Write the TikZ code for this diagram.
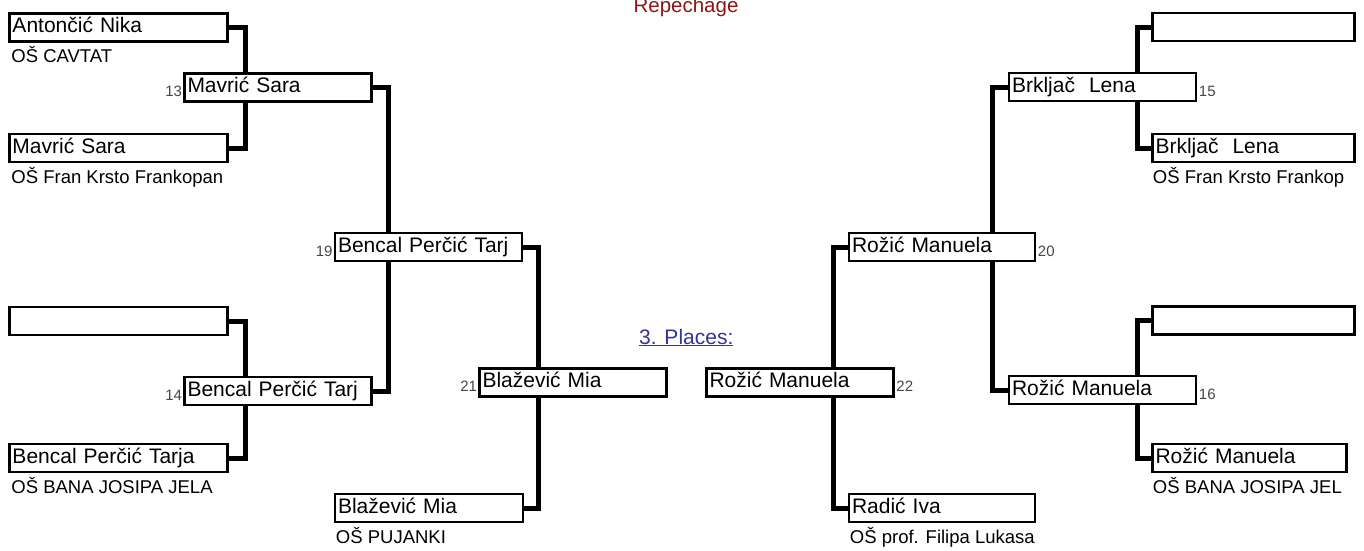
\documentclass[tikz,border=0pt]{standalone}
\usepackage{fontspec}
\setmainfont{Liberation Sans}
\usepackage{xcolor}
\definecolor{repred}{RGB}{140,22,22}
\definecolor{placeblue}{RGB}{51,51,153}
\definecolor{seedgray}{RGB}{70,70,70}

\begin{document}
\begin{tikzpicture}[x=1pt, y=-1pt,
  player/.style={draw, line width=2.5pt, fill=white, minimum height=28pt,
    inner xsep=3pt, inner ysep=0pt, text height=14pt, text depth=4pt,
    align=left, text width=#1, font=\fontsize{21}{25}\selectfont},
  school/.style={anchor=base west, inner sep=0pt, font=\fontsize{18.5}{22}\selectfont},
  seed/.style={inner sep=0pt, text=seedgray, font=\fontsize{15}{17}\selectfont},
  link/.style={line width=5pt}]
\useasboundingbox (0,0) rectangle (1364,550);

% Titles
\node[anchor=base, inner sep=0pt, text=repred, font=\fontsize{20.5}{24}\selectfont] (title) at (686,12) {Repechage};
\node[anchor=base west, inner sep=0pt, text=placeblue, font=\fontsize{21}{25}\selectfont] (places) at (639,344) {\underline{3. Places:}};

% Bracket columns
\coordinate (lc1) at (245,0);
\coordinate (lc2) at (388,0);
\coordinate (lc3) at (538,0);
\coordinate (rc1) at (1137,0);
\coordinate (rc2) at (992,0);
\coordinate (rc3) at (833,0);

% Left half: first round
\node[player=212] (L1) at (118.5,27.5) {Antončić Nika};
\node[player=212] (L2) at (118.5,148) {Mavrić Sara};
\node[player=212] (L3) at (118.5,321) {};
\node[player=212] (L4) at (118.5,458) {Bencal Perčić Tarja};
\node[school] (sL1) at ([xshift=3pt,yshift=-20pt]L1.south west) {OŠ CAVTAT};
\node[school] (sL2) at ([xshift=3pt,yshift=-20pt]L2.south west) {OŠ Fran Krsto Frankopan};
\node[school] (sL4) at ([xshift=3pt,yshift=-20pt]L4.south west) {OŠ BANA JOSIPA JELA};

% Left half: later rounds
\node[player=181] (M13) at (278,87.5) {Mavrić Sara};
\node[player=181] (M14) at (278,391) {Bencal Perčić Tarj};
\node[player=181] (M19) at (428.5,247) {Bencal Perčić Tarj};
\node[player=181] (M21) at (573,382.5) {Blažević Mia};
\node[player=182] (B) at (429,508) {Blažević Mia};
\node[school] (sB) at ([xshift=2pt,yshift=-20pt]B.south west) {OŠ PUJANKI};

\foreach \m/\n in {M13/13, M14/14, M19/19, M21/21}
  \node[seed, anchor=base east] (n\n) at ([xshift=-1pt,yshift=-9pt]\m.west) {\n};

% Right half: first round
\node[player=196] (R1) at (1253.5,27) {};
\node[player=196] (R2) at (1253.5,148) {Brkljač\ \ Lena};
\node[player=196] (R3) at (1253.5,320.5) {};
\node[player=188] (R4) at (1249.5,458) {Rožić Manuela};
\node[school] (sR2) at ([xshift=1.5pt,yshift=-20pt]R2.south west) {OŠ Fran Krsto Frankop};
\node[school] (sR4) at ([xshift=1.5pt,yshift=-20pt]R4.south west) {OŠ BANA JOSIPA JEL};

% Right half: later rounds
\node[player=181] (M15) at (1102.5,87) {Brkljač\ \ Lena};
\node[player=181] (M16) at (1102.5,390) {Rožić Manuela};
\node[player=180] (M20) at (942,247) {Rožić Manuela};
\node[player=181] (M22) at (800,382.5) {Rožić Manuela};
\node[player=180] (Rad) at (942,508) {Radić Iva};
\node[school] (sRad) at ([xshift=2pt,yshift=-20pt]Rad.south west) {OŠ prof. Filipa Lukasa};

\foreach \m/\n in {M15/15, M16/16, M20/20, M22/22}
  \node[seed, anchor=base west] (n\n) at ([xshift=1.5pt,yshift=-9pt]\m.east) {\n};

% Connectors, left
\draw[link] (L1.east) -| (lc1 |- M13.north);
\draw[link] (L2.east) -| (lc1 |- M13.south);
\draw[link] (L3.east) -| (lc1 |- M14.north);
\draw[link] (L4.east) -| (lc1 |- M14.south);
\draw[link] (M13.east) -| (lc2 |- M19.north);
\draw[link] (M14.east) -| (lc2 |- M19.south);
\draw[link] (M19.east) -| (lc3 |- M21.north);
\draw[link] (B.east) -| (lc3 |- M21.south);

% Connectors, right
\draw[link] (R1.west) -| (rc1 |- M15.north);
\draw[link] (R2.west) -| (rc1 |- M15.south);
\draw[link] (R3.west) -| (rc1 |- M16.north);
\draw[link] (R4.west) -| (rc1 |- M16.south);
\draw[link] (M15.west) -| (rc2 |- M20.north);
\draw[link] (M16.west) -| (rc2 |- M20.south);
\draw[link] (M20.west) -| (rc3 |- M22.north);
\draw[link] (Rad.west) -| (rc3 |- M22.south);
\end{tikzpicture}
\end{document}
